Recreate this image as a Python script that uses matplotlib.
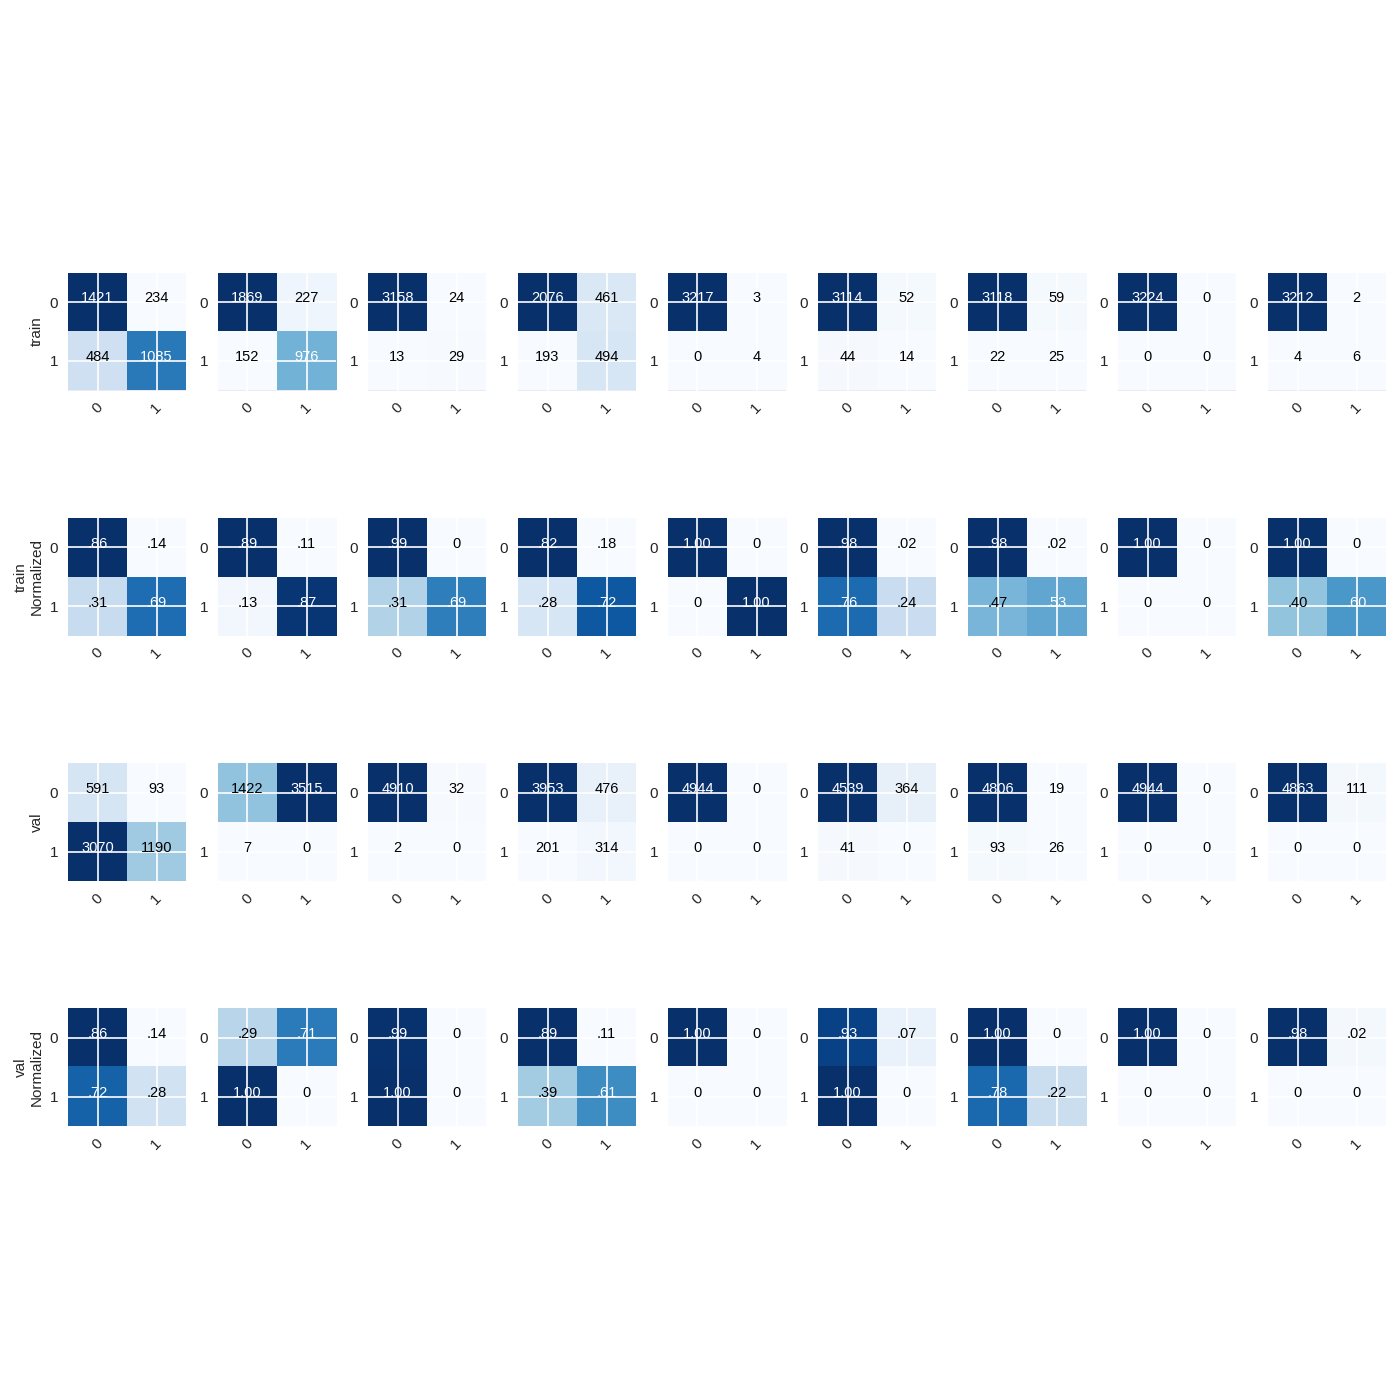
import matplotlib
matplotlib.use('Agg')
import matplotlib.pyplot as plt
import seaborn as sns
import numpy as np

sns.set_style('darkgrid')
plt.rcParams['font.family'] = ['Liberation Sans', 'DejaVu Sans']

row_labels = ['train', 'train\nNormalized', 'val', 'val\nNormalized']
class_labels = ['0', '1']

train_counts = [
    [[1421, 234], [484, 1085]],
    [[1869, 227], [152, 976]],
    [[3158, 24], [13, 29]],
    [[2076, 461], [193, 494]],
    [[3217, 3], [0, 4]],
    [[3114, 52], [44, 14]],
    [[3118, 59], [22, 25]],
    [[3224, 0], [0, 0]],
    [[3212, 2], [4, 6]],
]
train_norm = [
    [[.86, .14], [.31, .69]],
    [[.89, .11], [.13, .87]],
    [[.99, 0], [.31, .69]],
    [[.82, .18], [.28, .72]],
    [[1.0, 0], [0, 1.0]],
    [[.98, .02], [.76, .24]],
    [[.98, .02], [.47, .53]],
    [[1.0, 0], [0, 0]],
    [[1.0, 0], [.40, .60]],
]
val_counts = [
    [[591, 93], [3070, 1190]],
    [[1422, 3515], [7, 0]],
    [[4910, 32], [2, 0]],
    [[3953, 476], [201, 314]],
    [[4944, 0], [0, 0]],
    [[4539, 364], [41, 0]],
    [[4806, 19], [93, 26]],
    [[4944, 0], [0, 0]],
    [[4863, 111], [0, 0]],
]
val_norm = [
    [[.86, .14], [.72, .28]],
    [[.29, .71], [1.0, 0]],
    [[.99, 0], [1.0, 0]],
    [[.89, .11], [.39, .61]],
    [[1.0, 0], [0, 0]],
    [[.93, .07], [1.0, 0]],
    [[1.0, 0], [.78, .22]],
    [[1.0, 0], [0, 0]],
    [[.98, .02], [0, 0]],
]

rows = [(train_counts, False), (train_norm, True), (val_counts, False), (val_norm, True)]


def fmt(v, normalized):
    if not normalized:
        return f'{int(v)}'
    if v == 0:
        return '0'
    s = f'{v:.2f}'
    if s.startswith('0'):
        s = s[1:]
    return s


fig, axes = plt.subplots(4, 9, figsize=(14, 14), dpi=100)
fig.patch.set_facecolor('white')
W = 1400.0
cell_w = 118.0
gap = 32.0
left = 68.0
h = 200.0
pitch = 245.3
top_center = 331.5
fig.subplots_adjust(left=left / W, right=(left + 9 * cell_w + 8 * gap) / W,
                    wspace=gap / cell_w,
                    top=(W - (top_center - h / 2)) / W,
                    bottom=(W - (top_center + 3 * pitch + h / 2)) / W,
                    hspace=(pitch - h) / h)

for r, (data, normalized) in enumerate(rows):
    for c in range(9):
        ax = axes[r, c]
        m = np.array(data[c], dtype=float)
        ax.imshow(m, cmap='Blues', interpolation='nearest')
        thresh = m.max() / 2.0
        for i in range(2):
            for j in range(2):
                ax.annotate(fmt(m[i, j], normalized), xy=(j, i), xytext=(0, -0.3),
                            textcoords='offset points', ha='center', va='baseline',
                            fontsize=10.5,
                            color='white' if m[i, j] > thresh else 'black')
        ax.set_xticks([0, 1])
        ax.set_yticks([0, 1])
        ax.set_xticklabels(class_labels, rotation=45, fontsize=11)
        ax.set_yticklabels(class_labels, fontsize=11)
        ax.tick_params(colors='.15')
        ax.grid(True, color='white', linewidth=1.2)
        for s in ax.spines.values():
            s.set_visible(False)
        if c == 0:
            ax.set_ylabel(row_labels[r], fontsize=11, color='.15')

fig.savefig('out.png', dpi=100, facecolor='white')
